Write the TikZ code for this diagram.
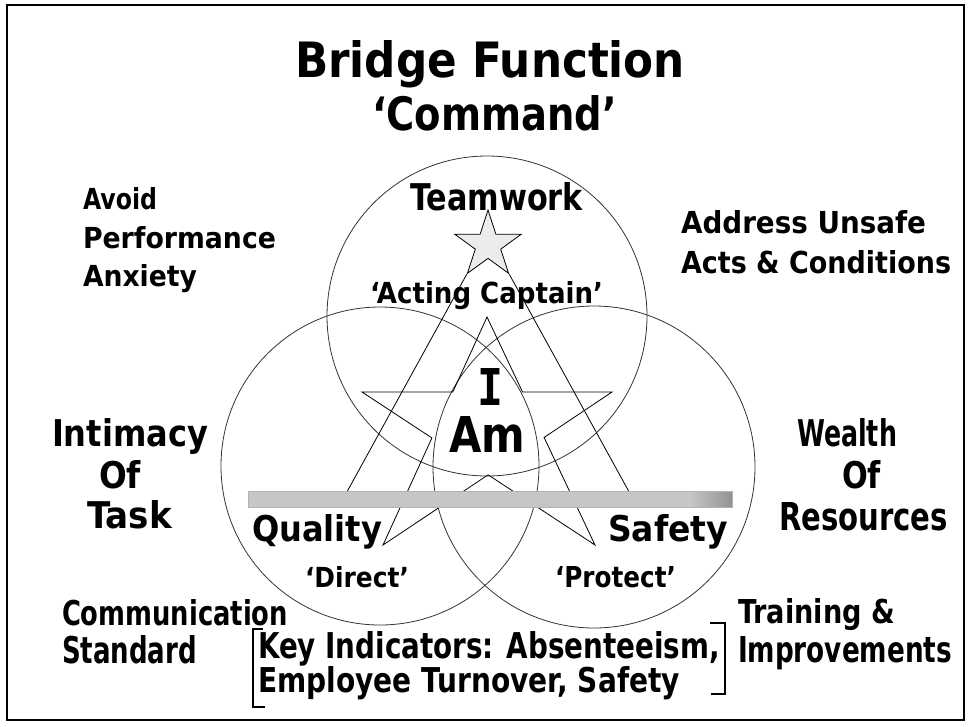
\documentclass[tikz,border=0pt]{standalone}
\usepackage{fontspec}
\setmainfont{DejaVu Sans}
\newfontfamily\monofam{DejaVu Sans Mono}
\usepackage{graphicx}
\usetikzlibrary{shapes.geometric}
\newcommand\fitT[3]{\resizebox{#1pt}{#2pt}{\bfseries #3}}
\begin{document}
\begin{tikzpicture}[x=1pt,y=-1pt,
  lbl/.style={inner sep=0pt, outer sep=0pt, anchor=base west},
  ring/.style={draw=black!80, line width=0.8pt},
  edge/.style={draw=black, line width=0.8pt, line join=miter},
  framebox/.style={draw=black, line width=2pt},
  brk/.style={draw=black, line width=1.6pt}]
\useasboundingbox (0,0) rectangle (968,726);
\fill[white] (0,0) rectangle (968,726);

% circles
\coordinate (ct) at (487,316);
\coordinate (cl) at (380,466);
\coordinate (cr) at (594,467);
\draw[ring] (ct) circle[radius=160];
\draw[ring] (cl) circle[radius=159];
\draw[ring] (cr) circle[radius=161];

% big star
\coordinate (A) at (487,317);
\coordinate (L) at (362,392);
\coordinate (R) at (612,392);
\coordinate (BL) at (383,545);
\coordinate (BR) at (595,545);
\coordinate (ULi) at (intersection of A--BL and L--R);
\coordinate (URi) at (intersection of A--BR and L--R);
\coordinate (LLi) at (intersection of A--BL and L--BR);
\coordinate (LRi) at (intersection of A--BR and R--BL);
\coordinate (Bi) at (intersection of L--BR and R--BL);
\draw[edge] (A) -- (ULi) -- (L) -- (LLi) -- (BL) -- (Bi) -- (BR) -- (LRi) -- (R) -- (URi) -- cycle;

% small star and long lines
\node[star, star points=5, star point ratio=2.618, minimum size=70pt, inner sep=0pt,
      draw=black, line width=0.8pt, fill=gray!15] (sstar) at (488,245) {};
\coordinate (barL) at (343,499);
\coordinate (barR) at (633,499);
\draw[edge] (sstar.outer point 3) -- (barL);
\draw[edge] (sstar.outer point 4) -- (barR);

% bar
\fill[gray!45] (248,491) rectangle (732,507);
\shade[left color=gray!45, right color=gray!85] (690,491) rectangle (732,507);
\draw[gray!60, line width=0.6pt] (248,491) rectangle (732,507);

% texts
\node[lbl] (title1) at (295,77) {\fitT{390}{37}{Bridge Function}};
\node[lbl] (title2) at (372,130) {\fitT{245}{35}{‘Command’}};
\node[lbl] (avoid) at (83,209) {\fitT{74}{22}{Avoid}};
\node[lbl] (perf) at (83,248) {\fitT{193}{22}{Performance}};
\node[lbl] (anx) at (83,286) {\fitT{114}{22}{Anxiety}};
\node[lbl] (addr) at (681,233) {\fitT{245}{23}{Address Unsafe}};
\node[lbl] (acts) at (681,273) {\fitT{270}{23}{Acts \& Conditions}};
\node[lbl] (team) at (410,210) {\fitT{173}{28}{Teamwork}};
\node[lbl] (acting) at (370,303) {\fitT{233}{22}{‘Acting Captain’}};
\node[lbl] (iword) at (477,405) {\fitT{26}{37}{\monofam I}};
\node[lbl] (am) at (449,452) {\fitT{76}{36}{Am}};
\node[lbl] (intim) at (52,446) {\fitT{156}{28}{Intimacy}};
\node[lbl] (ofl) at (99,488) {\fitT{42}{28}{Of}};
\node[lbl] (task) at (87,528) {\fitT{85}{28}{Task}};
\node[lbl] (wealth) at (797,446) {\fitT{100}{28}{Wealth}};
\node[lbl] (ofr) at (842,488) {\fitT{39}{28}{Of}};
\node[lbl] (resrc) at (779,530) {\fitT{169}{28}{Resources}};
\node[lbl] (quality) at (252,541) {\fitT{130}{27}{Quality}};
\node[lbl] (safety) at (608,541) {\fitT{120}{27}{Safety}};
\node[lbl] (direct) at (305,587) {\fitT{104}{21}{‘Direct’}};
\node[lbl] (protect) at (555,587) {\fitT{121}{21}{‘Protect’}};
\node[lbl] (comm) at (62,625) {\fitT{226}{26}{Communication}};
\node[lbl] (stand) at (62,663) {\fitT{135}{28}{Standard}};
\node[lbl] (train) at (738,623) {\fitT{157}{25}{Training \&}};
\node[lbl] (impr) at (738,662) {\fitT{214}{26}{Improvements}};
\node[lbl] (key1) at (258,658) {\fitT{462}{27}{Key Indicators: Absenteeism,}};
\node[lbl] (key2) at (258,692) {\fitT{422}{26}{Employee Turnover, Safety}};

% brackets
\draw[brk] (263,629) -- (253,629) -- (253,707) -- (265,707);
\draw[brk] (710,623) -- (725,623) -- (725,694) -- (711,694);

% frame
\draw[framebox] (7,5) rectangle (964,720);
\end{tikzpicture}
\end{document}
